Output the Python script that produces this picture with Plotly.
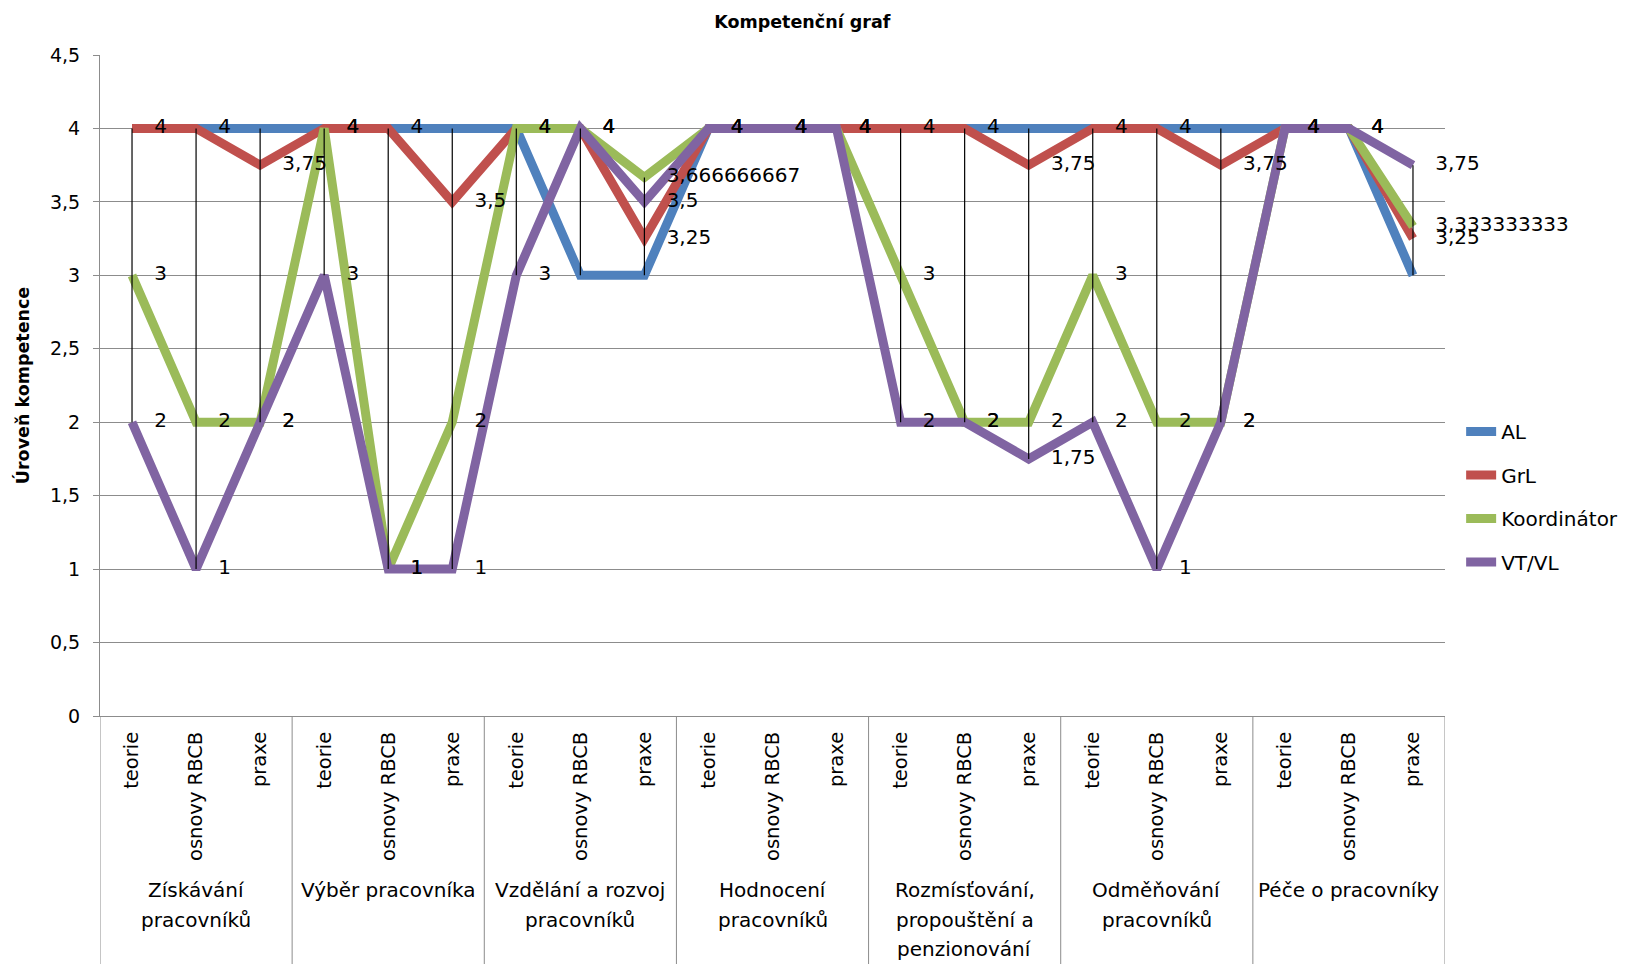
import plotly.graph_objects as go

# ---------------- data ----------------
series_names = ["AL", "GrL", "Koordinátor", "VT/VL"]
group_labels = [
    ["Získávání", "pracovníků"],
    ["Výběr pracovníka"],
    ["Vzdělání a rozvoj", "pracovníků"],
    ["Hodnocení", "pracovníků"],
    ["Rozmísťování,", "propouštění a", "penzionování"],
    ["Odměňování", "pracovníků"],
    ["Péče o pracovníky"],
]
sub_labels = ["teorie", "osnovy RBCB", "praxe"]

AL = [4, 4, 4, 4, 4, 4, 4, 3, 3, 4, 4, 4, 4, 4, 4, 4, 4, 4, 4, 4, 3]
GrL = [4, 4, 3.75, 4, 4, 3.5, 4, 4, 3.25, 4, 4, 4, 4, 4, 3.75, 4, 4, 3.75, 4, 4, 3.25]
Koord = [3, 2, 2, 4, 1, 2, 4, 4, 3.666666667, 4, 4, 4, 3, 2, 2, 3, 2, 2, 4, 4, 3.333333333]
VTVL = [2, 1, 2, 3, 1, 1, 3, 4, 3.5, 4, 4, 4, 2, 2, 1.75, 2, 1, 2, 4, 4, 3.75]

colors = ["#4F81BD", "#C0504D", "#9BBB59", "#8064A2"]
labelled = [False, True, True, True]

# ---------------- layout constants ----------------
W, H = 1644, 964
ML, MR, MT, MB = 100, 199, 55, 248
plot_h = H - MT - MB
FONT = "DejaVu Sans"

n = len(AL)
xs = list(range(n))
all_series = [AL, GrL, Koord, VTVL]

fig = go.Figure()

for name, vals, col in zip(series_names, all_series, colors):
    fig.add_trace(go.Scatter(
        x=xs, y=vals, mode="lines", name=name, legendgroup=name,
        line=dict(color=col, width=9, shape="linear"),
        hoverinfo="skip",
    ))

# high-low lines
hx, hy = [], []
for i in xs:
    vals = [s[i] for s in all_series]
    hx += [i, i, None]
    hy += [max(vals), min(vals), None]
fig.add_trace(go.Scatter(x=hx, y=hy, mode="lines", showlegend=False,
                         line=dict(color="black", width=1.2), hoverinfo="skip"))

def fmt(v):
    return f"{v:.10g}".replace(".", ",")

for name, vals, lab in zip(series_names, all_series, labelled):
    if not lab:
        continue
    fig.add_trace(go.Scatter(
        x=xs, y=vals, mode="markers+text", showlegend=False,
        text=[fmt(v) for v in vals], textposition="middle right",
        textfont=dict(family=FONT, size=20, color="black"),
        marker=dict(size=34, color="rgba(0,0,0,0)"),
        cliponaxis=False,
        hoverinfo="skip",
    ))

# group dividers and labels
shapes = []
bottom = -MB / plot_h
for g in range(len(group_labels) + 1):
    shapes.append(dict(type="line", xref="x", yref="paper",
                       x0=g * 3 - 0.5, x1=g * 3 - 0.5, y0=0, y1=bottom,
                       line=dict(color="#8C8C8C", width=1)))

annotations = []
for g, lines in enumerate(group_labels):
    for k, line in enumerate(lines):
        annotations.append(dict(
            text=line, x=g * 3 + 1, xref="x", y=0, yref="paper",
            yanchor="middle", xanchor="center", showarrow=False,
            yshift=-174 - k * 29.5,
            font=dict(family=FONT, size=20, color="black"),
        ))

fig.update_layout(
    width=W, height=H,
    margin=dict(l=ML, r=MR, t=MT, b=MB),
    paper_bgcolor="white", plot_bgcolor="white",
    separators=", ",
    title=dict(text="<b>Kompetenční graf</b>", x=0.488, xref="container",
               xanchor="center", y=1 - 22 / H, yref="container", yanchor="middle",
               font=dict(family=FONT, size=17.5, color="black")),
    font=dict(family=FONT, size=19, color="black"),
    showlegend=True,
    legend=dict(x=1.012, xanchor="left", y=0.46, yanchor="top",
                font=dict(family=FONT, size=20, color="black"),
                tracegroupgap=14.5, bgcolor="rgba(0,0,0,0)",
                itemwidth=30),
    shapes=shapes,
    annotations=annotations,
    xaxis=dict(range=[-0.5, n - 0.5], tickmode="array", tickvals=xs,
               ticktext=sub_labels * len(group_labels), tickangle=-90,
               showgrid=False, zeroline=False, showline=True,
               linecolor="#8C8C8C", linewidth=1, ticks="",
               ticklabelstandoff=7,
               tickfont=dict(family=FONT, size=19.5, color="black")),
    yaxis=dict(range=[0, 4.5], dtick=0.5, tick0=0, showgrid=True,
               gridcolor="#8C8C8C", gridwidth=1, zeroline=False,
               showline=True, linecolor="#8C8C8C", linewidth=1,
               ticks="outside", ticklen=6, tickcolor="#8C8C8C",
               ticklabelstandoff=9,
               tickfont=dict(family=FONT, size=19, color="black")),
)
fig.update_yaxes(title=dict(text="<b>Úroveň kompetence</b>", standoff=15,
                            font=dict(family=FONT, size=17.5, color="black")))

fig.write_html("out.html", config={"displayModeBar": False},
               post_script="document.body.style.margin='0';document.body.style.overflow='hidden';")
